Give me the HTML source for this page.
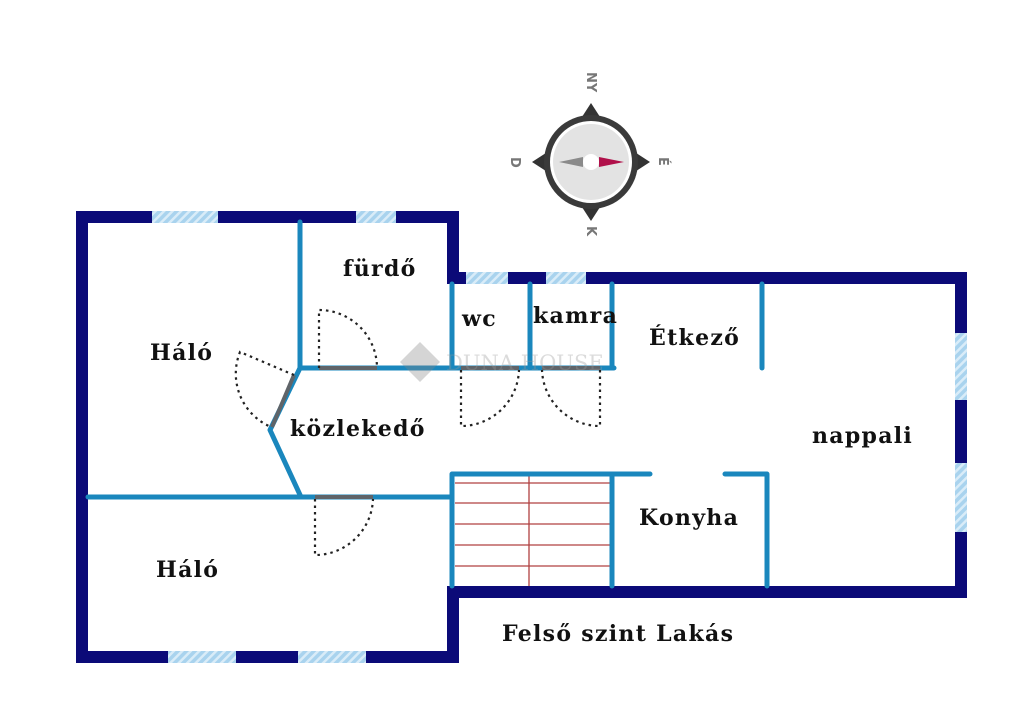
<!DOCTYPE html>
<html><head><meta charset="utf-8"><style>
html,body{margin:0;padding:0;background:#fff;}
svg{display:block;}
text{font-family:"DejaVu Serif","Liberation Serif",serif;font-weight:bold;font-size:22px;letter-spacing:1.3px;fill:#111;}
</style></head><body>
<svg width="1024" height="724" viewBox="0 0 1024 724" xmlns="http://www.w3.org/2000/svg">
<defs>
<pattern id="h" width="6" height="6" patternUnits="userSpaceOnUse" patternTransform="rotate(45)">
<rect width="6" height="6" fill="#a9d3ee"/><rect width="2.5" height="6" fill="#d9ecf8"/>
</pattern>
</defs>
<g fill="#0b0a78">
<rect x="76" y="211" width="12" height="452"/>
<rect x="76" y="211" width="383" height="12"/>
<rect x="447" y="211" width="12" height="73"/>
<rect x="447" y="272" width="520" height="12"/>
<rect x="955" y="272" width="12" height="326"/>
<rect x="447" y="586" width="520" height="12"/>
<rect x="447" y="586" width="12" height="77"/>
<rect x="76" y="651" width="383" height="12"/>
</g>
<g fill="url(#h)">
<rect x="152" y="211" width="66" height="12"/>
<rect x="356" y="211" width="40" height="12"/>
<rect x="466" y="272" width="42" height="12"/>
<rect x="546" y="272" width="40" height="12"/>
<rect x="955" y="333" width="12" height="67"/>
<rect x="955" y="463" width="12" height="69"/>
<rect x="168" y="651" width="68" height="12"/>
<rect x="298" y="651" width="68" height="12"/>
</g>
<g stroke="#b04040" stroke-width="1.3">
<line x1="455" y1="483" x2="610" y2="483"/>
<line x1="455" y1="503" x2="610" y2="503"/>
<line x1="455" y1="524" x2="610" y2="524"/>
<line x1="455" y1="545" x2="610" y2="545"/>
<line x1="455" y1="566" x2="610" y2="566"/>
<line x1="529" y1="476" x2="529" y2="586"/>
</g>
<g stroke="#1a87bd" stroke-width="5" fill="none" stroke-linecap="round" stroke-linejoin="round">
<line x1="300" y1="222" x2="300" y2="368"/>
<line x1="300" y1="368" x2="614" y2="368"/>
<line x1="452" y1="284" x2="452" y2="368"/>
<line x1="530" y1="284" x2="530" y2="368"/>
<line x1="612" y1="284" x2="612" y2="368"/>
<line x1="762" y1="284" x2="762" y2="368"/>
<polyline points="300,368 270,430 301,497"/>
<line x1="88" y1="497" x2="452" y2="497"/>
<polyline points="452,586 452,474 650,474"/>
<line x1="612" y1="474" x2="612" y2="586"/>
<polyline points="725,474 767,474 767,586"/>
</g>
<g stroke="#5f6469" stroke-width="4">
<line x1="319" y1="368" x2="377" y2="368"/>
<line x1="461" y1="368" x2="519" y2="368"/>
<line x1="542" y1="368" x2="600" y2="368"/>
<line x1="294" y1="375" x2="272" y2="427"/>
<line x1="315" y1="497" x2="373" y2="497"/>
</g>
<g stroke="#222" stroke-width="2.2" fill="none" stroke-dasharray="2.5 4">
<path d="M319 368 L319 310 A58 58 0 0 1 377 368"/>
<path d="M461 370 L461 426 A58 58 0 0 0 519 370"/>
<path d="M600 370 L600 426 A58 58 0 0 1 542 370"/>
<path d="M294 375 L240 352 A58 58 0 0 0 271 427"/>
<path d="M315 499 L315 555 A58 58 0 0 0 373 499"/>
</g>
<g opacity="0.35">
<path d="M420 342 L440 362 L420 382 L400 362 Z" fill="#888"/>
<text x="446" y="370" style="font-size:21px;fill:#999;font-weight:normal;letter-spacing:0">DUNA HOUSE</text>
</g>
<text x="150" y="360">Háló</text>
<text x="343" y="276">fürdő</text>
<text x="462" y="326">wc</text>
<text x="533" y="323">kamra</text>
<text x="649" y="345">Étkező</text>
<text x="290" y="436">közlekedő</text>
<text x="812" y="443">nappali</text>
<text x="639" y="525">Konyha</text>
<text x="156" y="577">Háló</text>
<text x="502" y="641">Felső szint Lakás</text>
<g transform="translate(591,162)">
<path d="M0 -59 L11 -42 L-11 -42 Z M0 59 L11 42 L-11 42 Z M-59 0 L-42 11 L-42 -11 Z M59 0 L42 11 L42 -11 Z" fill="#333"/>
<circle r="47" fill="#3a3a3a"/>
<circle r="41" fill="#fff"/>
<circle r="38" fill="#e3e3e3"/>
<path d="M-32 0 L-8 -5 L-8 5 Z" fill="#8a8a8a"/>
<path d="M33 0 L8 -5 L8 5 Z" fill="#b0104a"/>
<circle r="8" fill="#fff"/>
<text transform="translate(-4,-90) rotate(90)" style="font-family:'DejaVu Sans',sans-serif;font-size:13px;fill:#777;letter-spacing:0">NY</text>
<text transform="translate(-80,-5) rotate(90)" style="font-family:'DejaVu Sans',sans-serif;font-size:13px;fill:#777;letter-spacing:0">D</text>
<text transform="translate(68,-5) rotate(90)" style="font-family:'DejaVu Sans',sans-serif;font-size:13px;fill:#777;letter-spacing:0">É</text>
<text transform="translate(-4,64) rotate(90)" style="font-family:'DejaVu Sans',sans-serif;font-size:13px;fill:#777;letter-spacing:0">K</text>
</g>
</svg>
</body></html>
